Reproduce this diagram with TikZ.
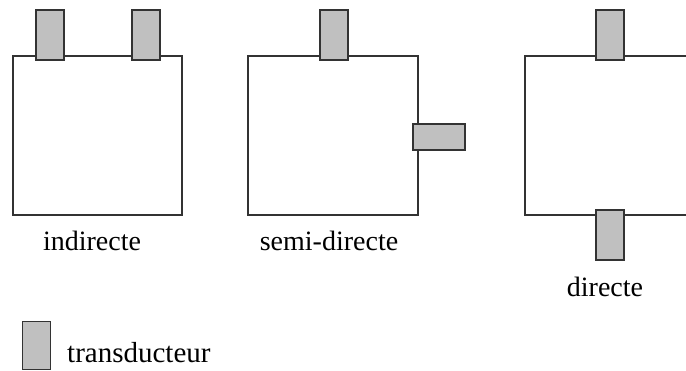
\documentclass[tikz,border=0pt]{standalone}
\usepackage{fontspec}
\setmainfont{Liberation Serif}
\definecolor{lc}{HTML}{333333}
\definecolor{tf}{HTML}{C0C0C0}
\begin{document}
\begin{tikzpicture}[x=1pt,y=-1pt,
  chamber/.style={draw=lc,line width=1.6pt,fill=white},
  trans/.style={draw=lc,line width=1.6pt,fill=tf,rectangle,inner sep=0pt,outer sep=0pt,minimum width=28pt,minimum height=50pt},
  transh/.style={trans,minimum width=52pt,minimum height=26pt},
  lbl/.style={font=\fontsize{28}{30}\selectfont,text=black,inner sep=0pt}]
\useasboundingbox (0,0) rectangle (686,371);
% chamber boxes
\node[chamber,rectangle,inner sep=0pt,outer sep=0pt,minimum width=169pt,minimum height=159pt] (b1) at (97.5,135.5) {};
\node[chamber,rectangle,inner sep=0pt,outer sep=0pt,minimum width=170pt,minimum height=159pt] (b2) at (333,135.5) {};
\coordinate (b3tr) at (690,56);
\coordinate (b3tl) at (525,56);
\coordinate (b3bl) at (525,215);
\coordinate (b3br) at (690,215);
\draw[chamber,fill=none] (b3tr) -- (b3tl) -- (b3bl) -- (b3br);
% transducers
\node[trans] (t1) at (50,35) {};
\node[trans] (t2) at (146,35) {};
\node[trans] (t3) at (334,35) {};
\node[transh] (t4) at (439,137) {};
\node[trans] (t5) at (610,35) {};
\node[trans] (t6) at (610,235) {};
% labels
\node[lbl] (l1) at (92,241) {indirecte};
\node[lbl] (l2) at (329,241) {semi-directe};
\node[lbl] (l3) at (605,287) {directe};
% legend
\node[trans,minimum height=48pt] (lg) at (36.5,345.5) {};
\node[lbl,anchor=west,font=\fontsize{29}{31}\selectfont] (lt) at (67,353) {transducteur};
\end{tikzpicture}
\end{document}
